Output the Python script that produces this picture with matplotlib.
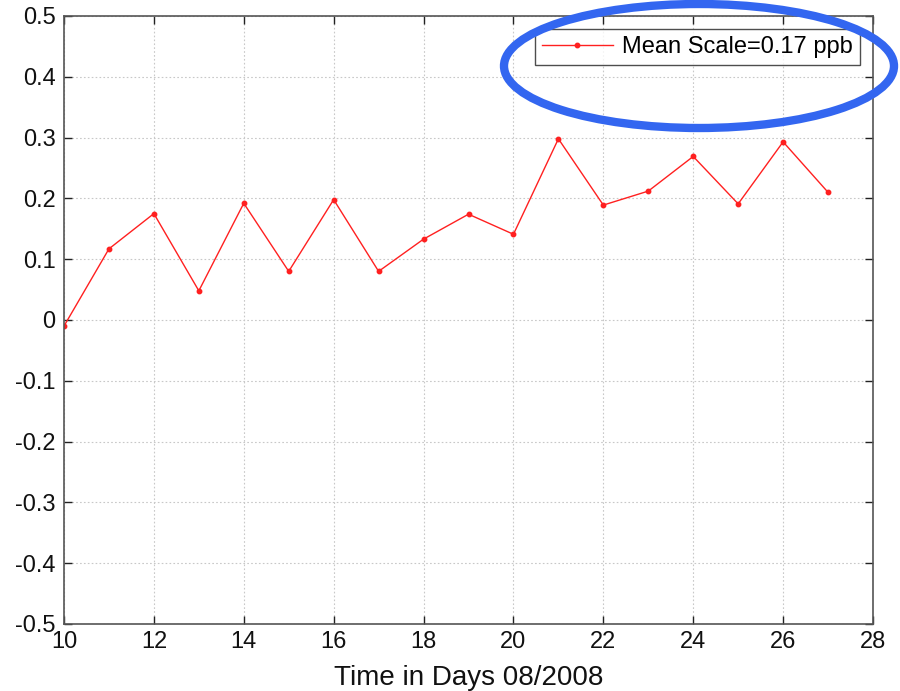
import matplotlib
matplotlib.use("Agg")
import matplotlib.pyplot as plt
from matplotlib.patches import Ellipse

# Daily mean scale values, August 2008
DAYS = [10, 11, 12, 13, 14, 15, 16, 17, 18, 19, 20, 21, 22, 23, 24, 25, 26, 27]
SCALE = [-0.010, 0.117, 0.175, 0.048, 0.192, 0.080, 0.198, 0.080, 0.133, 0.174,
         0.141, 0.298, 0.189, 0.212, 0.269, 0.191, 0.293, 0.210]
LEGEND_LABEL = "Mean Scale=0.17 ppb"
XTICKS = list(range(10, 29, 2))
YTICKS = [round(-0.5 + 0.1 * i, 1) for i in range(11)]

plt.rcParams["font.family"] = ["Liberation Sans", "DejaVu Sans"]
plt.rcParams["axes.unicode_minus"] = False

fig = plt.figure(figsize=(9, 6.91), dpi=100)
ax = fig.add_axes([64 / 900, 1 - 624 / 691, (873 - 64) / 900, (624 - 16) / 691])

ax.plot(DAYS, SCALE, color="#ff2020", linewidth=1.0, marker="o", markersize=3.2,
        label=LEGEND_LABEL)

ax.set_xlim(10, 28)
ax.set_ylim(-0.5, 0.5)
ax.set_xticks(XTICKS)
ax.set_yticks(YTICKS)
ax.set_yticklabels(["0" if abs(v) < 1e-9 else f"{v:g}" for v in YTICKS])
ax.tick_params(direction="in", length=6, width=1, top=True, right=True,
               labelsize=17, pad=6, colors="#222222", labelcolor="#111111")
ax.tick_params(axis="x", pad=5)
for s in ax.spines.values():
    s.set_color("#555555")
    s.set_linewidth(1.2)
ax.grid(True, linestyle=(0, (1.5, 2)), color="#c8c8c8", linewidth=0.8)
ax.set_xlabel("Time in Days 08/2008", fontsize=20, labelpad=9, color="#111111")

leg = ax.legend(loc="upper right", fontsize=17, frameon=True, fancybox=False,
                edgecolor="#222222", borderpad=0.3, handlelength=3.0,
                handletextpad=0.4, borderaxespad=0.55)
leg.get_frame().set_linewidth(1.0)

# blue ellipse annotation around the legend
ell = Ellipse((699 / 900, 1 - 66 / 691), 390 / 900, 124 / 691,
              transform=fig.transFigure, fill=False, edgecolor="#3366f0",
              linewidth=6, clip_on=False)
fig.patches.append(ell)

fig.savefig("out.png", dpi=100)
